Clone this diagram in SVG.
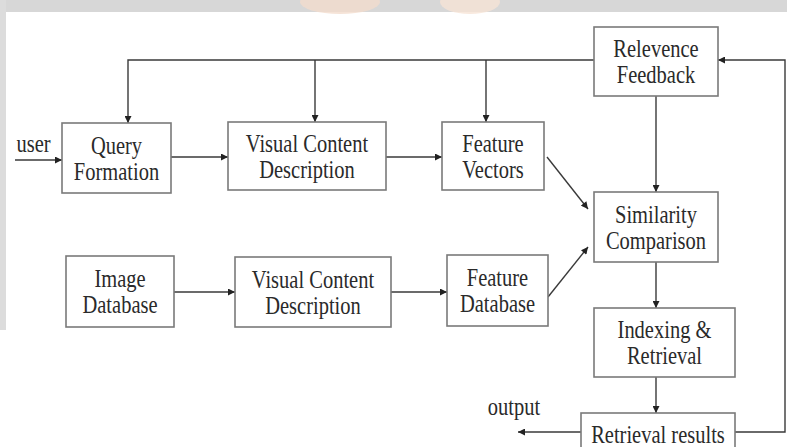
<svg xmlns="http://www.w3.org/2000/svg" width="787" height="447" viewBox="0 0 787 447">
<style>
.box{fill:#fff;stroke:#7a7a7a;stroke-width:1.6}
.t{font-family:"Liberation Serif","Times New Roman",serif;font-size:20.5px;fill:#2a2a2a;text-anchor:middle}
.c{fill:none;stroke:#3a3a3a;stroke-width:1.4}
</style>
<defs>
<marker id="ah" viewBox="0 0 10 10" refX="10" refY="5" markerWidth="8" markerHeight="7" markerUnits="userSpaceOnUse" orient="auto">
<path d="M0,0 L10,5 L0,10 z" fill="#222"/>
</marker>
</defs>
<rect width="787" height="447" fill="#fff"/>
<g id="background">
<rect x="0" y="0" width="787" height="12" fill="#d7d7d7"/>
<rect x="0" y="0" width="6" height="330" fill="#dcdcdc"/>
<ellipse cx="340" cy="2" rx="40" ry="12" fill="#f3dccd" opacity="0.8"/>
<ellipse cx="470" cy="2" rx="30" ry="12" fill="#f6e3d6" opacity="0.8"/>
</g>
<g id="connectors">
<polyline class="c" points="594,60 128,60 128,123" marker-end="url(#ah)"/>
<line class="c" x1="315" y1="60" x2="315" y2="122" marker-end="url(#ah)"/>
<line class="c" x1="486" y1="60" x2="486" y2="122" marker-end="url(#ah)"/>
<line class="c" x1="656" y1="96" x2="656" y2="192" marker-end="url(#ah)"/>
<line class="c" x1="15" y1="160" x2="62" y2="160" marker-end="url(#ah)"/>
<line class="c" x1="171" y1="157" x2="228" y2="157" marker-end="url(#ah)"/>
<line class="c" x1="386" y1="157" x2="442" y2="157" marker-end="url(#ah)"/>
<line class="c" x1="547" y1="157" x2="588" y2="209" marker-end="url(#ah)"/>
<line class="c" x1="548" y1="297" x2="588" y2="247" marker-end="url(#ah)"/>
<line class="c" x1="174" y1="292" x2="235" y2="292" marker-end="url(#ah)"/>
<line class="c" x1="391" y1="292" x2="447" y2="292" marker-end="url(#ah)"/>
<line class="c" x1="656" y1="262" x2="656" y2="308" marker-end="url(#ah)"/>
<line class="c" x1="656" y1="377" x2="656" y2="413" marker-end="url(#ah)"/>
<line class="c" x1="581" y1="432" x2="518" y2="432" marker-end="url(#ah)"/>
<polyline class="c" points="735,432 785,432 785,60 718,60" marker-end="url(#ah)"/>
</g>
<g id="relevence-feedback">
<rect class="box" x="594" y="27" width="124" height="69"/>
<text class="t" transform="translate(656,57) scale(1,1.18)">Relevence</text>
<text class="t" transform="translate(656,83) scale(1,1.18)">Feedback</text>
</g>
<g id="query-formation">
<rect class="box" x="62" y="123" width="109" height="70"/>
<text class="t" transform="translate(116.5,153.5) scale(1,1.18)">Query</text>
<text class="t" transform="translate(116.5,179.5) scale(1,1.18)">Formation</text>
</g>
<g id="visual-content-1">
<rect class="box" x="228" y="122" width="158" height="68"/>
<text class="t" transform="translate(307,151.5) scale(1,1.18)">Visual Content</text>
<text class="t" transform="translate(307,177.5) scale(1,1.18)">Description</text>
</g>
<g id="feature-vectors">
<rect class="box" x="442" y="122" width="102" height="68"/>
<text class="t" transform="translate(493,151.5) scale(1,1.18)">Feature</text>
<text class="t" transform="translate(493,177.5) scale(1,1.18)">Vectors</text>
</g>
<g id="similarity-comparison">
<rect class="box" x="594" y="192" width="124" height="70"/>
<text class="t" transform="translate(656,222.5) scale(1,1.18)">Similarity</text>
<text class="t" transform="translate(656,248.5) scale(1,1.18)">Comparison</text>
</g>
<g id="image-database">
<rect class="box" x="66" y="256" width="108" height="71"/>
<text class="t" transform="translate(120,287) scale(1,1.18)">Image</text>
<text class="t" transform="translate(120,313) scale(1,1.18)">Database</text>
</g>
<g id="visual-content-2">
<rect class="box" x="235" y="257" width="156" height="70"/>
<text class="t" transform="translate(313,287.5) scale(1,1.18)">Visual Content</text>
<text class="t" transform="translate(313,313.5) scale(1,1.18)">Description</text>
</g>
<g id="feature-database">
<rect class="box" x="447" y="255" width="101" height="71"/>
<text class="t" transform="translate(497.5,286) scale(1,1.18)">Feature</text>
<text class="t" transform="translate(497.5,312) scale(1,1.18)">Database</text>
</g>
<g id="indexing-retrieval">
<rect class="box" x="594" y="308" width="141" height="69"/>
<text class="t" transform="translate(664.5,338) scale(1,1.18)">Indexing &amp;</text>
<text class="t" transform="translate(664.5,364) scale(1,1.18)">Retrieval</text>
</g>
<g id="retrieval-results">
<rect class="box" x="581" y="413" width="154" height="40"/>
<text class="t" transform="translate(658,443) scale(1,1.18)">Retrieval results</text>
</g>
<g id="labels">
<text class="t" transform="translate(33.5,152) scale(1,1.18)">user</text>
<text class="t" transform="translate(514,415) scale(1,1.18)">output</text>
</g>
</svg>
